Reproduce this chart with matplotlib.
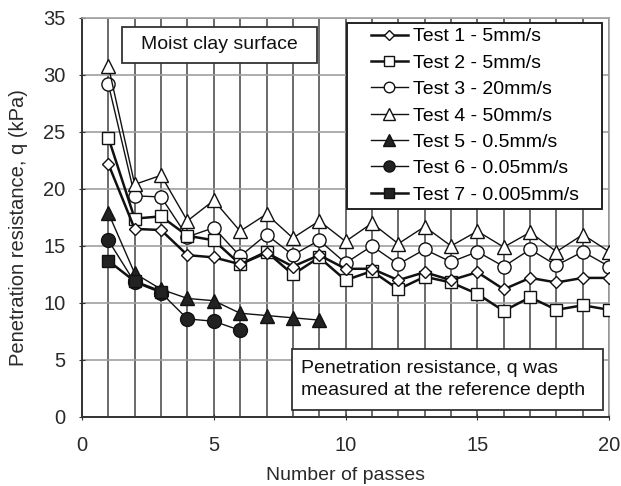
import matplotlib
matplotlib.use("Agg")
import matplotlib.pyplot as plt
from matplotlib.patches import Rectangle

plt.rcParams['font.family'] = ['Liberation Sans', 'DejaVu Sans']

passes = list(range(1, 21))
test1 = [22.2, 16.5, 16.4, 14.2, 14.0, 13.4, 14.4, 13.2, 14.2, 13.0,
         13.0, 12.0, 12.7, 12.0, 12.7, 11.2, 12.2, 11.8, 12.2, 12.2]
test2 = [24.5, 17.4, 17.6, 15.9, 15.5, 13.4, 14.5, 12.5, 14.0, 12.0,
         12.8, 11.2, 12.3, 11.8, 10.8, 9.3, 10.5, 9.4, 9.8, 9.4]
test3 = [29.2, 19.4, 19.3, 15.8, 16.6, 14.1, 16.0, 14.2, 15.5, 13.5,
         15.0, 13.4, 14.7, 13.6, 14.5, 13.2, 14.7, 13.3, 14.5, 13.2]
test4 = [30.8, 20.4, 21.2, 17.2, 19.0, 16.3, 17.8, 15.7, 17.2, 15.4,
         17.0, 15.2, 16.7, 15.0, 16.3, 14.9, 16.2, 14.5, 16.0, 14.5]
passes5 = list(range(1, 10))
test5 = [17.9, 12.6, 11.2, 10.4, 10.2, 9.1, 8.9, 8.7, 8.5]
passes6 = list(range(1, 7))
test6 = [15.5, 11.8, 10.9, 8.6, 8.4, 7.6]
passes7 = [1, 2, 3]
test7 = [13.7, 11.9, 11.0]

labels = ["Test 1 - 5mm/s", "Test 2 - 5mm/s", "Test 3 - 20mm/s",
          "Test 4 - 50mm/s", "Test 5 - 0.5mm/s", "Test 6 - 0.05mm/s",
          "Test 7 - 0.005mm/s"]

fig = plt.figure(figsize=(6.21, 4.86), dpi=100)
ax = fig.add_axes([0.132, 0.142, 0.849, 0.821])

k = '#111111'
fillc = '#222222'
ax.plot(passes, test1, '-', color=k, lw=1.8, marker='D', ms=6.5, mfc='white', mec=k, mew=1.0, label=labels[0], zorder=5)
ax.plot(passes, test2, '-', color=k, lw=1.8, marker='s', ms=9, mfc='white', mec=k, mew=1.0, label=labels[1], zorder=4)
ax.plot(passes, test3, '-', color=k, lw=1.0, marker='o', ms=9.5, mfc='white', mec=k, mew=1.0, label=labels[2], zorder=3)
ax.plot(passes, test4, '-', color=k, lw=1.0, marker='^', ms=10, mfc='white', mec=k, mew=1.0, label=labels[3], zorder=3)
ax.plot(passes5, test5, '-', color=k, lw=1.0, marker='^', ms=10, mfc=fillc, mec=k, label=labels[4], zorder=6)
ax.plot(passes6, test6, '-', color=k, lw=1.0, marker='o', ms=10, mfc=fillc, mec=k, label=labels[5], zorder=6)
ax.plot(passes7, test7, '-', color=k, lw=1.8, marker='s', ms=9, mfc=fillc, mec=k, label=labels[6], zorder=6)

ax.set_xlim(0, 20)
ax.set_ylim(0, 35)
ax.set_xticks([0, 5, 10, 15, 20])
ax.set_xticks(range(0, 21), minor=True)
ax.set_yticks(range(0, 36, 5))
ax.grid(True, which='minor', axis='x', color='#6a6a6a', lw=1.4)
ax.grid(True, which='major', axis='x', color='#6a6a6a', lw=1.4)
ax.grid(True, which='major', axis='y', color='#a0a0a0', lw=1.2)
ax.set_axisbelow(True)
ax.tick_params(axis='both', which='major', labelsize=14.5, length=4, color='#333333',
               labelcolor='#2a2a2a', direction='inout')
ax.tick_params(axis='y', which='major', pad=10)
ax.tick_params(axis='x', which='major', pad=12)
ax.tick_params(axis='x', which='minor', length=0)
for s in ['left', 'bottom']:
    ax.spines[s].set_color('#333333')
    ax.spines[s].set_linewidth(1.4)
for s in ['top', 'right']:
    ax.spines[s].set_color('#a0a0a0')
    ax.spines[s].set_linewidth(1.2)

ax.set_xlabel("Number of passes", fontsize=14, color='#2a2a2a', labelpad=8)
ax.set_ylabel("Penetration resistance, q (kPa)", fontsize=14.5, color='#2a2a2a')
ax.yaxis.set_label_coords(-0.103, 0.475)

# legend frame and content
ax.add_patch(Rectangle((0.503, 0.5225), 0.484, 0.465, transform=ax.transAxes,
                       fc='white', ec='#222222', lw=1.4, zorder=9))
leg = ax.legend(loc='center', bbox_to_anchor=(0.745, 0.755), borderaxespad=0,
                fontsize=14, handlelength=1.9, handletextpad=0.28, labelspacing=0.45,
                frameon=False, borderpad=0, markerscale=0.8)
leg.set_zorder(10)

# annotation boxes
ax.add_patch(Rectangle((0.076, 0.8875), 0.370, 0.090, transform=ax.transAxes,
                       fc='white', ec='#333333', lw=1.3, zorder=9))
ax.text(0.261, 0.9325, "Moist clay surface", transform=ax.transAxes, fontsize=14,
        ha='center', va='center', color='#111111', zorder=10)

ax.add_patch(Rectangle((0.398, 0.0175), 0.591, 0.1525, transform=ax.transAxes,
                       fc='white', ec='#333333', lw=1.3, zorder=9))
ax.text(0.684, 0.094, "Penetration resistance, q was\nmeasured at the reference depth",
        transform=ax.transAxes, fontsize=14, ha='center', va='center', ma='left',
        color='#111111', linespacing=1.45, zorder=10)

fig.savefig("out.png", dpi=100)
